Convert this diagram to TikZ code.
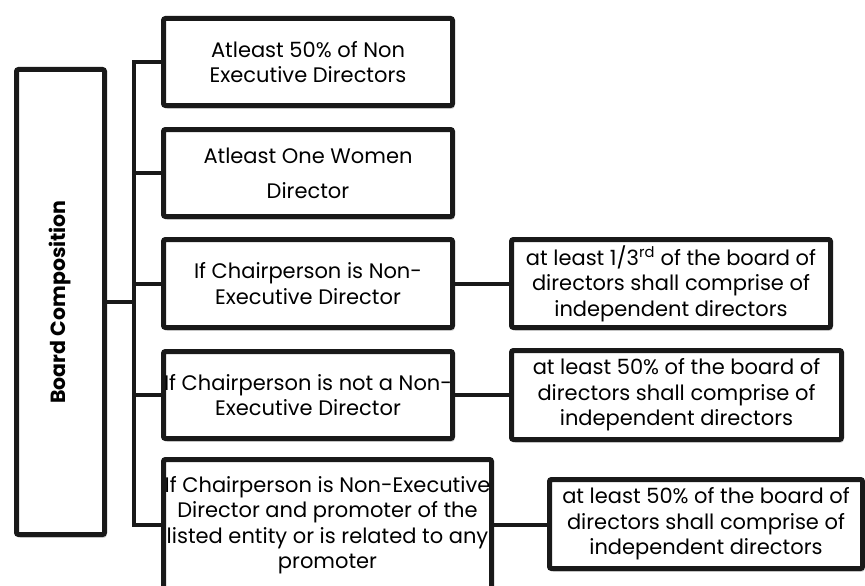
\documentclass[tikz,border=0pt]{standalone}
\usepackage{fontspec}
\setmainfont{Poppins}
\usetikzlibrary{shadows}
\begin{document}
\begin{tikzpicture}[x=1pt,y=-1pt,
  box/.style={draw=black!90, line width=5pt, fill=white, rounded corners=2pt,
    align=center, inner sep=0pt, font=\fontsize{21}{25.5}\selectfont,
    drop shadow={shadow xshift=2pt, shadow yshift=-3pt, fill=black, opacity=0.22}},
  link/.style={draw=black!90, line width=4pt}]
\useasboundingbox (0,0) rectangle (865,586);

% root box with vertical title
\node[box, minimum width=88pt, minimum height=465pt] (main) at (60.5,302) {};
\node[font=\bfseries\fontsize{20.5}{24}\selectfont, rotate=90] (title) at (60,302) {Board Composition};

% first-level conditions
\node[box, minimum width=289pt, minimum height=87pt] (b1) at (308,62)
  {Atleast 50\% of Non\\Executive Directors};
\node[box, minimum width=289pt, minimum height=87pt, font=\fontsize{21}{35}\selectfont] (b2) at (308,173)
  {Atleast One Women\\Director};
\node[box, minimum width=289pt, minimum height=88pt] (b3) at (308,283.5)
  {If Chairperson is Non-\\Executive Director};
\node[box, minimum width=289pt, minimum height=87pt] (b4) at (308,395)
  {If Chairperson is not a Non-\\Executive Director};
\node[box, minimum width=328pt, minimum height=131pt] (b5) at (327.5,525)
  {If Chairperson is Non-Executive\\Director and promoter of the\\listed entity or is related to any\\promoter};

% resulting requirements
\node[box, minimum width=319pt, minimum height=88pt] (r1) at (671,283.5)
  {at least 1/3\textsuperscript{rd} of the board of\\directors shall comprise of\\independent directors};
\node[box, minimum width=330pt, minimum height=89pt] (r2) at (676.5,395)
  {at least 50\% of the board of\\directors shall comprise of\\independent directors};
\node[box, minimum width=313pt, minimum height=89pt] (r3) at (706,524)
  {at least 50\% of the board of\\directors shall comprise of\\independent directors};

% bracket bus
\coordinate (bus) at (134,0);
\draw[link] (main.east) -- (main.east -| bus);
\draw[link] (b1.west) -- (b1.west -| bus) -- (b5.west -| bus) -- (b5.west);
\draw[link] (b2.west) -- (b2.west -| bus);
\draw[link] (b3.west) -- (b3.west -| bus);
\draw[link] (b4.west) -- (b4.west -| bus);

% condition to requirement
\draw[link] (b3.east) -- (r1.west);
\draw[link] (b4.east) -- (r2.west);
\draw[link] (b5.east) -- (b5.east -| r3.west);
\end{tikzpicture}
\end{document}
